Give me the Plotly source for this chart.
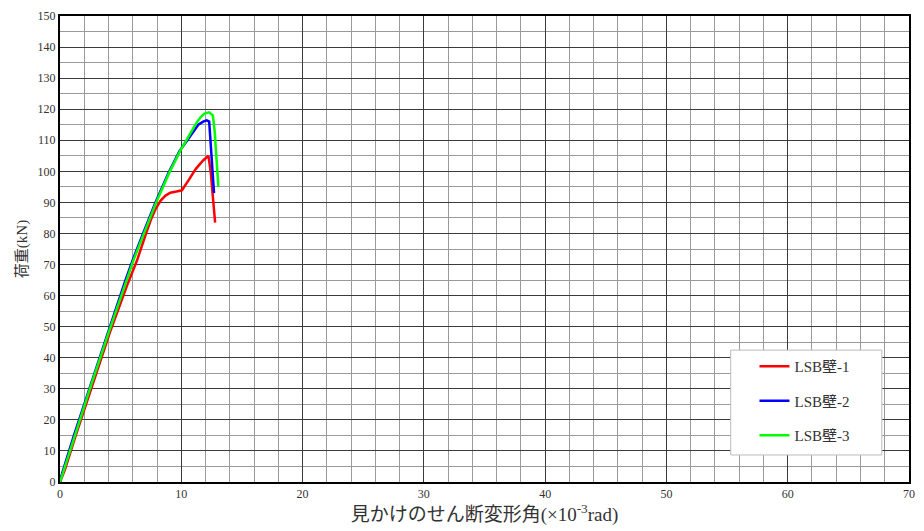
import plotly.graph_objects as go

# Load vs. apparent shear deformation angle for three LSB wall specimens
names = ["LSB壁-1", "LSB壁-2", "LSB壁-3"]
colors = ["#ff0000", "#0000ff", "#00ff00"]

x1 = [0, 0.4, 1.3, 2.55, 4.1, 5.6, 6.34, 7.1, 7.5, 7.9, 8.3, 8.7, 9.1, 9.6,
      10.05, 10.66, 11.2, 11.8, 12.24, 12.43, 12.79]
y1 = [0, 3.9, 15, 30, 48, 64, 71.2, 80, 84.5, 88, 90.6, 92.2, 93.1, 93.5,
      93.9, 97.5, 100.8, 103.5, 105, 99.7, 83.5]

x2 = [0, 0.15, 1.15, 2.4, 3.95, 5.4, 6.0, 6.9, 7.87, 8.95, 9.85, 10.5, 11.0,
      11.4, 11.8, 12.1, 12.3, 12.5, 12.7]
y2 = [0, 2.5, 15, 30, 48, 65, 71.5, 80.5, 90, 99.5, 106.5, 110, 113,
      115, 116, 116.4, 116, 106, 93]

x3 = [0, 0.2, 1.2, 2.46, 4.0, 5.47, 6.07, 6.97, 7.93, 9.0, 9.9, 10.5, 11.2,
      11.6, 11.9, 12.3, 12.6, 12.75, 12.9, 13.06]
y3 = [0, 2.5, 15, 30, 48, 65, 71.5, 80.5, 90, 99.5, 106.5, 110.5, 115.3,
      117.5, 118.6, 119, 118, 113, 103, 95]

series = [(x1, y1), (x2, y2), (x3, y3)]

FONT = "Liberation Serif, 'Noto Sans CJK JP', serif"

fig = go.Figure()
for i, (xs, ys) in enumerate(series):
    fig.add_trace(go.Scatter(
        x=xs, y=ys, mode="lines", name=names[i],
        line=dict(color=colors[i], width=2.5),
        legendgroup=f"g{i}",
    ))

axis_common = dict(
    showline=True, linecolor="black", linewidth=2, mirror=True,
    ticks="", zeroline=False,
    showgrid=True, gridcolor="#3a3a3a", gridwidth=1.3,
    tickfont=dict(family=FONT, size=12, color="#333333"),
)

# legend frame drawn as a shape so the box can be wider than the entries
fig.add_shape(
    type="rect", xref="paper", yref="paper",
    x0=0.790, x1=0.968, y0=0.058, y1=0.283,
    fillcolor="white", line=dict(color="#bbbbbb", width=1), layer="above",
)

fig.update_layout(
    width=924, height=531,
    margin=dict(l=60, r=9, t=15, b=49),
    paper_bgcolor="white", plot_bgcolor="white",
    font=dict(family=FONT, color="#333333"),
    showlegend=True,
    legend=dict(
        x=0.818, y=0.283, xanchor="left", yanchor="top",
        bgcolor="rgba(0,0,0,0)", borderwidth=0,
        font=dict(family=FONT, size=15, color="#333333"),
        tracegroupgap=12, itemwidth=30,
    ),
    xaxis=dict(
        range=[0, 70], dtick=10, tick0=0,
        minor=dict(dtick=2, showgrid=True, gridcolor="#9a9a9a", gridwidth=1.3),
        title=dict(text="見かけのせん断変形角(×10<sup>-3</sup>rad)", standoff=6,
                   font=dict(family=FONT, size=19, color="#333333")),
        **axis_common,
    ),
    yaxis=dict(
        range=[0, 150], dtick=10, tick0=0,
        minor=dict(dtick=5, showgrid=True, gridcolor="#9a9a9a", gridwidth=1.3),
        title=dict(text="荷重(kN)", standoff=6,
                   font=dict(family=FONT, size=15, color="#333333")),
        **axis_common,
    ),
)

fig.write_html("out.html")
